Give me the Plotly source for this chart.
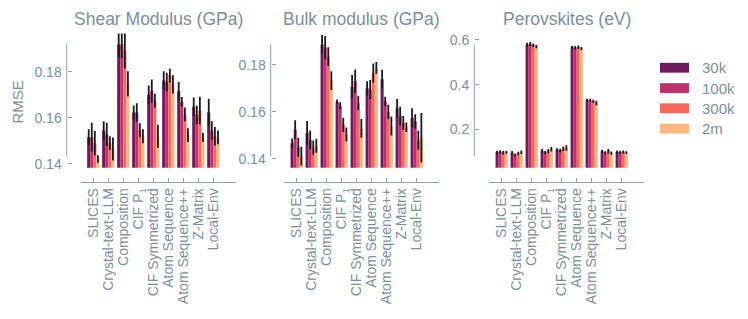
import plotly.graph_objects as go

categories = ["SLICES", "Crystal-text-LLM", "Composition", "CIF P<sub>1</sub>", "CIF Symmetrized",
              "Atom Sequence", "Atom Sequence++", "Z-Matrix", "Local-Env"]
sizes = ["30k", "100k", "300k", "2m"]
colors = ["#711a5b", "#c0306f", "#f8675c", "#feb681"]

panel_titles = ["Shear Modulus (GPa)", "Bulk modulus (GPa)", "Perovskites (eV)"]
y_label = "RMSE"

# Shear modulus RMSE
shear_30k = [0.1516, 0.1545, 0.1918, 0.1623, 0.1700, 0.1762, 0.1715, 0.1648, 0.1623]
shear_100k = [0.1516, 0.1528, 0.1918, 0.1623, 0.1716, 0.1755, 0.1670, 0.1613, 0.1545]
shear_300k = [0.1490, 0.1490, 0.1892, 0.1546, 0.1674, 0.1783, 0.1615, 0.1631, 0.1520]
shear_2m = [0.1421, 0.1465, 0.1747, 0.1520, 0.1520, 0.1745, 0.1525, 0.1515, 0.1515]
shear_err_30k = [0.0034, 0.004, 0.0055, 0.003, 0.004, 0.004, 0.004, 0.004, 0.006]
shear_err_100k = [0.0062, 0.005, 0.006, 0.004, 0.005, 0.004, 0.002, 0.004, 0.004]
shear_err_300k = [0.0053, 0.003, 0.0078, 0.003, 0.003, 0.003, 0.003, 0.006, 0.004]
shear_err_2m = [0.0016, 0.005, 0.0055, 0.003, 0.005, 0.004, 0.003, 0.002, 0.003]

# Bulk modulus RMSE
bulk_30k = [0.1467, 0.1511, 0.1886, 0.1643, 0.1707, 0.1700, 0.1739, 0.1615, 0.1575]
bulk_100k = [0.1525, 0.1481, 0.1872, 0.1626, 0.1730, 0.1695, 0.1644, 0.1582, 0.1560]
bulk_300k = [0.1450, 0.1448, 0.1835, 0.1545, 0.1637, 0.1765, 0.1600, 0.1553, 0.1480]
bulk_2m = [0.1412, 0.1456, 0.1733, 0.1504, 0.1530, 0.1787, 0.1540, 0.1535, 0.1490]
bulk_err_30k = [0.002, 0.005, 0.004, 0.001, 0.005, 0.003, 0.004, 0.004, 0.004]
bulk_err_100k = [0.004, 0.004, 0.005, 0.0015, 0.005, 0.004, 0.002, 0.004, 0.003]
bulk_err_300k = [0.004, 0.003, 0.004, 0.003, 0.003, 0.004, 0.003, 0.003, 0.004]
bulk_err_2m = [0.004, 0.003, 0.004, 0.003, 0.004, 0.0025, 0.004, 0.002, 0.0105]

# Perovskites RMSE
perov_30k = [0.099, 0.097, 0.578, 0.105, 0.110, 0.566, 0.331, 0.103, 0.100]
perov_100k = [0.101, 0.087, 0.581, 0.098, 0.107, 0.564, 0.331, 0.097, 0.099]
perov_300k = [0.097, 0.094, 0.575, 0.104, 0.115, 0.567, 0.326, 0.104, 0.100]
perov_2m = [0.099, 0.099, 0.569, 0.112, 0.118, 0.561, 0.318, 0.095, 0.097]
perov_err_30k = [0.007, 0.008, 0.008, 0.008, 0.007, 0.007, 0.006, 0.007, 0.007]
perov_err_100k = [0.007, 0.006, 0.009, 0.007, 0.008, 0.008, 0.006, 0.007, 0.007]
perov_err_300k = [0.008, 0.007, 0.008, 0.009, 0.010, 0.007, 0.007, 0.010, 0.007]
perov_err_2m = [0.007, 0.008, 0.007, 0.010, 0.012, 0.007, 0.010, 0.007, 0.006]

y_ticks = [[0.14, 0.16, 0.18], [0.14, 0.16, 0.18], [0.2, 0.4, 0.6]]
y_ranges = [[0.1383, 0.1966], [0.13625, 0.19333], [0.0297, 0.628]]

panels = [
    ([shear_30k, shear_100k, shear_300k, shear_2m],
     [shear_err_30k, shear_err_100k, shear_err_300k, shear_err_2m]),
    ([bulk_30k, bulk_100k, bulk_300k, bulk_2m],
     [bulk_err_30k, bulk_err_100k, bulk_err_300k, bulk_err_2m]),
    ([perov_30k, perov_100k, perov_300k, perov_2m],
     [perov_err_30k, perov_err_100k, perov_err_300k, perov_err_2m]),
]

W, H = 748, 319
TEXT = "#7b8e9c"
LINE = "#8fa1ae"
FONT = "Liberation Sans, Arial, sans-serif"

def px(x):
    return x / W

def py(y):
    return 1 - y / H

x_domains = [[80.85, 235.85], [284.25, 439.25], [489.25, 644.25]]
spine_x = [66.7, 270.7, 474.3]
y_dom = [py(169), py(32)]

fig = go.Figure()
for p, (vals, errs) in enumerate(panels):
    sfx = "" if p == 0 else str(p + 1)
    for s in range(4):
        fig.add_trace(go.Bar(
            x=categories, y=vals[s], name=sizes[s],
            marker=dict(color=colors[s], line=dict(width=0)),
            error_y=dict(type="data", array=errs[s], color="#1a1a1a", thickness=1.8, width=0),
            xaxis="x" + sfx, yaxis="y" + sfx, showlegend=False,
        ))

layout = dict(
    width=W, height=H, margin=dict(l=0, r=0, t=0, b=0),
    plot_bgcolor="white", paper_bgcolor="white",
    barmode="group", bargap=0.18, bargroupgap=0,
    font=dict(family=FONT, color=TEXT, size=14),
    shapes=[], annotations=[],
)
for p in range(3):
    sfx = "" if p == 0 else str(p + 1)
    layout["xaxis" + sfx] = dict(
        domain=[px(x_domains[p][0]), px(x_domains[p][1])],
        anchor="free", position=py(183), range=[-0.83, 9.5],
        type="category", tickmode="array", tickvals=categories, ticktext=categories,
        tickangle=-90, ticks="inside", ticklen=4, tickcolor=LINE, tickwidth=1,
        showline=True, linecolor=LINE, linewidth=1, showgrid=False, zeroline=False,
        tickfont=dict(size=14, color=TEXT, family=FONT),
    )
    layout["yaxis" + sfx] = dict(
        domain=y_dom, anchor="free", position=px(spine_x[p]), range=y_ranges[p],
        tickmode="array", tickvals=y_ticks[p], ticks="inside", ticklen=4,
        tickcolor=LINE, tickwidth=1, showline=False, showgrid=False, zeroline=False,
        ticklabelstandoff=5,
        tickfont=dict(size=14, color=TEXT, family=FONT),
    )
    layout["shapes"].append(dict(type="line", xref="paper", yref="paper",
                                 x0=px(spine_x[p]), x1=px(spine_x[p]), y0=py(43), y1=py(157.5),
                                 line=dict(color=LINE, width=1)))
    layout["annotations"].append(dict(
        text=panel_titles[p], xref="paper", yref="paper",
        x=px((x_domains[p][0] + x_domains[p][1]) / 2), y=py(17),
        xanchor="center", yanchor="middle", showarrow=False,
        font=dict(size=17.5, color=TEXT, family=FONT)))

layout["annotations"].append(dict(
    text=y_label, xref="paper", yref="paper", x=px(17.5), y=py(102),
    xanchor="center", yanchor="middle", textangle=-90, showarrow=False,
    font=dict(size=15, color=TEXT, family=FONT)))

# legend drawn manually
leg_y = [67, 87.7, 108.3, 129]
for s in range(4):
    layout["shapes"].append(dict(type="rect", xref="paper", yref="paper",
                                 x0=px(660), x1=px(689), y0=py(leg_y[s] - 5), y1=py(leg_y[s] + 5),
                                 fillcolor=colors[s], line=dict(width=0)))
    layout["annotations"].append(dict(
        text=sizes[s], xref="paper", yref="paper", x=px(700), y=py(leg_y[s]),
        xanchor="left", yanchor="middle", showarrow=False,
        font=dict(size=15, color=TEXT, family=FONT)))

fig.update_layout(**layout)
fig.write_html("out.html", config={"displayModeBar": False},
               post_script="document.body.style.margin='0';document.body.style.overflow='hidden';")
